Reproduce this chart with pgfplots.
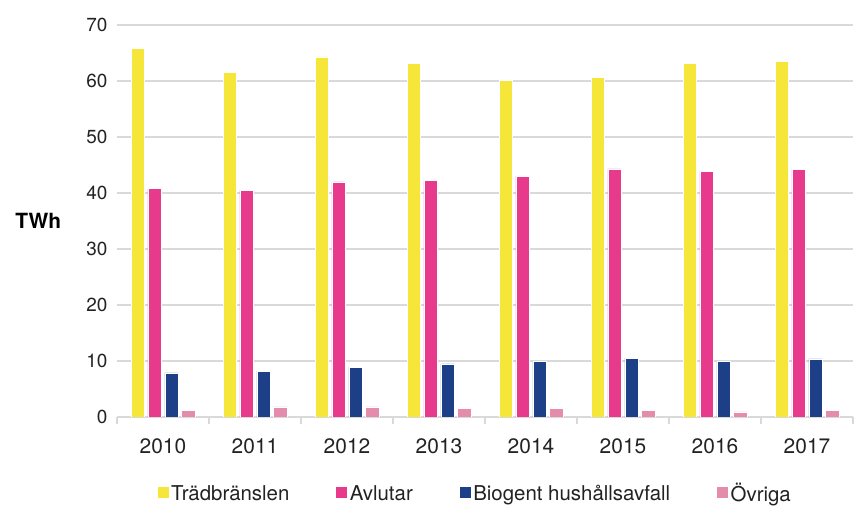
\documentclass[border=0pt]{standalone}
\usepackage{fontspec}
\setmainfont{TeX Gyre Heros}
\usepackage{pgfplots}
\pgfplotsset{compat=1.18}

\definecolor{cTra}{HTML}{F6E639}
\definecolor{cAvl}{HTML}{E83A8C}
\definecolor{cBio}{HTML}{1D3F88}
\definecolor{cOvr}{HTML}{E38CAB}
\definecolor{cGrid}{HTML}{D9D9D9}
\definecolor{cText}{HTML}{222222}

\begin{document}
\begin{tikzpicture}
\path[use as bounding box] (0bp,0bp) rectangle (854bp,506bp);
\begin{axis}[
  at={(117bp,89bp)}, anchor=south west,
  scale only axis, width=736bp, height=392bp,
  ybar=3.6bp, bar width=13.3bp,
  xmin=-0.5, xmax=7.5, ymin=0, ymax=70,
  xtick={0,...,7},
  xticklabels={2010,2011,2012,2013,2014,2015,2016,2017},
  minor xtick={-0.5,0.5,...,7.5},
  ytick={0,10,...,70},
  major tick length=0pt, minor tick length=7bp,
  tick align=outside,
  minor tick style={cGrid, line width=1.5bp},
  axis x line*=bottom, axis y line*=left,
  x axis line style={cGrid, line width=2bp, -},
  y axis line style={draw=none},
  ymajorgrids, grid style={cGrid, line width=2bp},
  /pgf/number format/assume math mode=true,
  yticklabel style={font=\fontsize{19}{22}\selectfont, text=cText, xshift=-6bp},
  xticklabel style={font=\fontsize{21}{24}\selectfont, text=cText, yshift=-18bp},
  ylabel={\textbf{TWh}},
  ylabel style={rotate=-90, at={(axis description cs:-0.107,0.5)}, anchor=center,
    font=\fontsize{21}{24}\selectfont},
  legend columns=4,
  legend style={at={(axis description cs:0.486,-0.195)}, anchor=center, draw=none,
    font=\fontsize{20.5}{24}\selectfont, text=cText, fill=none,
    /tikz/every even column/.append style={column sep=44bp}},
  legend image code/.code={\fill[#1] (0bp,-5bp) rectangle (12bp,7bp);},
]
\addplot[fill=cTra, draw=white, line width=0.5bp] coordinates {
  (0,65.8) (1,61.6) (2,64.3) (3,63.1) (4,60.1) (5,60.7) (6,63.2) (7,63.5)};
\addplot[fill=cAvl, draw=white, line width=0.5bp] coordinates {
  (0,40.8) (1,40.5) (2,42.0) (3,42.2) (4,43.0) (5,44.3) (6,43.9) (7,44.2)};
\addplot[fill=cBio, draw=white, line width=0.5bp] coordinates {
  (0,7.9) (1,8.2) (2,8.9) (3,9.5) (4,10.0) (5,10.5) (6,9.9) (7,10.4)};
\addplot[fill=cOvr, draw=white, line width=0.5bp] coordinates {
  (0,1.25) (1,1.8) (2,1.8) (3,1.6) (4,1.5) (5,1.2) (6,0.9) (7,1.2)};
\legend{Trädbränslen, Avlutar, Biogent hushållsavfall, Övriga}
\end{axis}
\end{tikzpicture}
\end{document}
